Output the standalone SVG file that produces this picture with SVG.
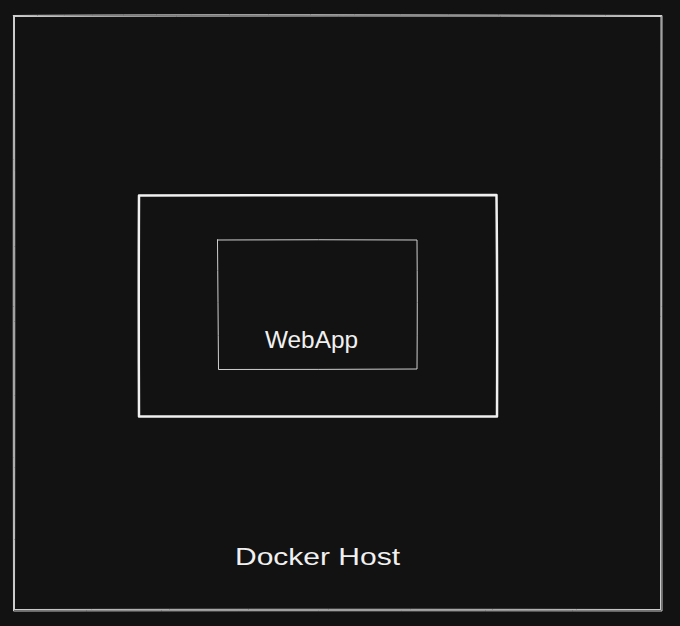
<svg xmlns="http://www.w3.org/2000/svg" width="680" height="626" viewBox="0 0 680 626">
<style>
.bg{fill:#121212}
.edge{fill:none;stroke:#e6e6e6;stroke-linecap:round;stroke-linejoin:round}
.thin{stroke-width:1;stroke:#cfcfcf}
.thick{stroke-width:2.5;stroke:#f0f0f0}
.lbl{font-family:"Liberation Sans",Arial,sans-serif;font-size:24px;fill:#f0f0f0}
</style>
<rect class="bg" x="0" y="0" width="680" height="626"/>
<g id="docker-host">
<path class="edge thin" d="M13.5 15.5 Q200 14 662 15.5 Q661.5 300 662 611 Q300 610.5 13.5 611 Q13 300 13.5 15.5 Z"/>
<path class="edge thin" d="M14.5 16.5 Q340 15.5 661 16.5 M661 16.5 Q661 320 660.5 609.5 M660.5 609.5 Q320 609 14.5 609.5 M14.5 609.5 Q15 330 14.5 16.5"/>
<text class="lbl" x="235" y="565" textLength="165" lengthAdjust="spacingAndGlyphs">Docker Host</text>
</g>
<g id="container">
<path class="edge thick" d="M139 195.5 Q320 194.5 496.5 195 Q497.5 300 497 416.5 Q320 416 139 416.5 Q138.5 300 139 195.5 Z"/>
</g>
<g id="webapp">
<path class="edge thin" d="M217.5 240 Q320 239.5 417 240 Q417.5 300 417 369 Q320 369.5 218.5 369.5 Q218 300 217.5 240 Z"/>
<text class="lbl" x="265" y="348" textLength="93" lengthAdjust="spacingAndGlyphs">WebApp</text>
</g>
<g id="connectors"></g>
</svg>
